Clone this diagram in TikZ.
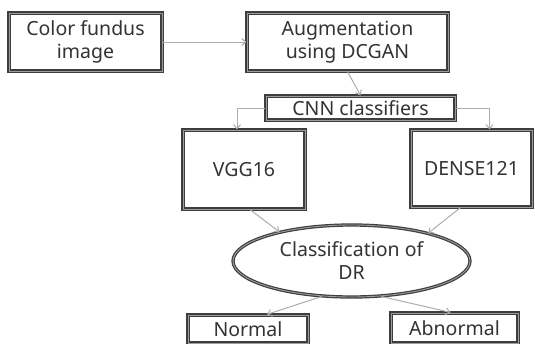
\documentclass[tikz,border=0pt]{standalone}
\usepackage{fontspec}
\setmainfont{Noto Sans}
\usetikzlibrary{arrows.meta,shapes.geometric}
\definecolor{boxline}{HTML}{3E3E3E}
\definecolor{boxinner}{HTML}{9C9C9C}
\definecolor{connline}{HTML}{ADADAD}
\definecolor{textcol}{HTML}{333333}
\tikzset{
  frame/.style={draw=boxline, line width=1.2pt, double=boxinner, double distance=0.9pt},
  stepbox/.style={frame, rectangle, align=center,
    text=textcol, font=\fontsize{19.5}{23}\selectfont, inner sep=0pt},
  oval/.style={frame, ellipse, align=center,
    text=textcol, font=\fontsize{19.5}{23}\selectfont, inner sep=0pt},
  conn/.style={draw=connline, line width=1pt,
    -{Straight Barb[length=4pt,width=7pt]}},
}
\begin{document}
\begin{tikzpicture}[x=1pt,y=-1pt]
  \useasboundingbox (0,0) rectangle (535,343);
  \clip (0,0) rectangle (535,343);
  \fill[white] (0,0) rectangle (535,343);

  % processing stages
  \node[stepbox, minimum width=153pt, minimum height=58pt] (fundus) at (85.5,42) {Color fundus\\image};
  \node[stepbox, minimum width=201pt, minimum height=58pt] (aug) at (347.5,42) {Augmentation\\using DCGAN};
  \node[stepbox, minimum width=189pt, minimum height=24pt] (cnn) at (360.5,108) {CNN classifiers};
  \node[stepbox, minimum width=122pt, minimum height=79pt] (vgg) at (244,169.5) {VGG16};
  \node[stepbox, minimum width=121pt, minimum height=77pt] (dense) at (471.5,168.5) {DENSE121};
  \node[oval, minimum width=237pt, minimum height=72pt] (cls) at (351.5,261) {Classification of\\DR};
  \node[stepbox, minimum width=120pt, minimum height=28pt] (normal) at (248,329) {Normal};
  \node[stepbox, minimum width=127pt, minimum height=30pt] (abn) at (454.5,328) {Abnormal};

  % connectors
  \draw[conn] (fundus.east) -- (aug.west);
  \draw[conn] (aug.south) -- (cnn.north);
  \draw[conn] (cnn.west) -| ([xshift=-7pt]vgg.north);
  \draw[conn] (cnn.east) -| ([xshift=18pt]dense.north);
  \draw[conn] ([xshift=6pt]vgg.south) -- (cls.158);
  \draw[conn] ([xshift=-11pt]dense.south) -- (cls.20);
  \draw[conn] (cls.230) -- ([xshift=19pt]normal.north);
  \draw[conn] (cls.310) -- ([xshift=-4pt]abn.north);
\end{tikzpicture}
\end{document}
